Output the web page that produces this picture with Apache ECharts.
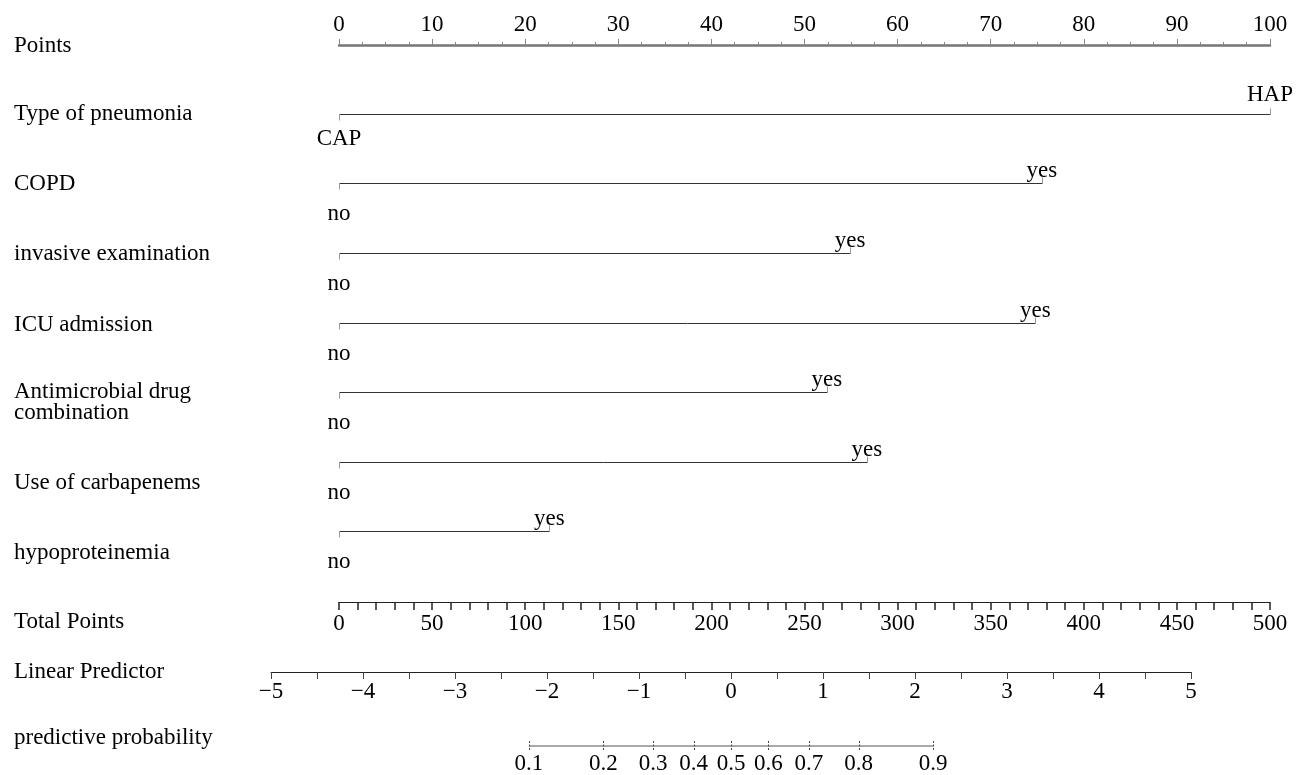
<!DOCTYPE html>
<html><head><meta charset="utf-8">
<script src="https://cdn.jsdelivr.net/npm/echarts@6/dist/echarts.min.js"></script>
<style>html,body{margin:0;padding:0;background:#fff}#c{width:1299px;height:775px}</style>
</head><body><div id="c"></div>
<script>
// ---- data ----
const variables = ['Type of pneumonia', 'COPD', 'invasive examination', 'ICU admission', 'Antimicrobial drug\ncombination', 'Use of carbapenems', 'hypoproteinemia'];
const lowLabels = ['CAP', 'no', 'no', 'no', 'no', 'no', 'no'];
const highLabels = ['HAP', 'yes', 'yes', 'yes', 'yes', 'yes', 'yes'];
const lowPoints = [0, 0, 0, 0, 0, 0, 0];
const highPoints = [100, 75.5, 54.9, 74.8, 52.4, 56.7, 22.6];
const pointsRange = [0, 100];
const totalRange = [0, 500];
const lpRange = [-5, 5];
const probTicks = [0.1, 0.2, 0.3, 0.4, 0.5, 0.6, 0.7, 0.8, 0.9];
const scaleNames = ['Points', 'Total Points', 'Linear Predictor', 'predictive probability'];

// ---- style ----
const FONT = "'Liberation Serif', 'Times New Roman', serif";
const FS = 23;
const LH = 21;
const logit = p => Math.log(p / (1 - p));
const minus = v => (v < 0 ? '\u2212' + Math.abs(v) : String(v));
const isUpper = s => s === s.toUpperCase();

const chart = echarts.init(document.getElementById('c'), null, {renderer: 'canvas'});

const rowData = variables.map((v, i) => [lowPoints[i], highPoints[i], i + 1, i]);
const probData = probTicks.map(p => [logit(p), 0.5, p]);

const leftLabelY = [46, 114, 184, 254, 325, 392, 483, 553, 622, 672, 738];
const leftTexts = [scaleNames[0]].concat(variables, scaleNames.slice(1));

const option = {
  animation: false,
  backgroundColor: '#fff',
  grid: [
    {left: 339, width: 931, top: 45, height: 557},
    {left: 271, width: 920, top: 671, height: 1},
    {left: 271, width: 920, top: 745, height: 2}
  ],
  xAxis: [
    {
      gridIndex: 0, type: 'value', position: 'top', min: pointsRange[0], max: pointsRange[1], interval: 10,
      axisLine: {show: true, lineStyle: {color: '#777', width: 2.5}},
      axisTick: {show: true, length: 6, lineStyle: {color: '#888', width: 1}},
      minorTick: {show: true, splitNumber: 4, length: 3, lineStyle: {color: '#888', width: 1}},
      splitLine: {show: false},
      axisLabel: {color: '#000', fontFamily: FONT, fontSize: FS, margin: 9}
    },
    {
      gridIndex: 0, type: 'value', position: 'bottom', min: totalRange[0], max: totalRange[1], interval: 50,
      axisLine: {show: true, lineStyle: {color: '#222', width: 1}},
      axisTick: {show: true, length: 8, lineStyle: {color: '#222', width: 1.5}},
      minorTick: {show: true, splitNumber: 5, length: 8, lineStyle: {color: '#222', width: 1.5}},
      splitLine: {show: false},
      axisLabel: {color: '#000', fontFamily: FONT, fontSize: FS, margin: 10}
    },
    {
      gridIndex: 1, type: 'value', position: 'bottom', min: lpRange[0], max: lpRange[1], interval: 1,
      axisLine: {show: true, lineStyle: {color: '#222', width: 1}},
      axisTick: {show: true, length: 7, lineStyle: {color: '#444', width: 1}},
      minorTick: {show: true, splitNumber: 2, length: 7, lineStyle: {color: '#444', width: 1}},
      splitLine: {show: false},
      axisLabel: {color: '#000', fontFamily: FONT, fontSize: FS, margin: 8, formatter: minus}
    },
    {gridIndex: 2, type: 'value', min: lpRange[0], max: lpRange[1], show: false}
  ],
  yAxis: [
    {gridIndex: 0, type: 'value', min: 0, max: 8, inverse: true, show: false},
    {gridIndex: 1, type: 'value', min: 0, max: 1, show: false},
    {gridIndex: 2, type: 'value', min: 0, max: 1, show: false}
  ],
  graphic: leftTexts.map((t, i) => {
    const lines = t.split('\n').length;
    return {
      type: 'text', x: 14, y: leftLabelY[i] + (lines - 1) * LH / 2,
      style: {text: t, fontFamily: FONT, fontSize: FS, fill: '#000', lineHeight: LH, verticalAlign: 'middle', align: 'left'}
    };
  }),
  series: [
    {
      type: 'custom', xAxisIndex: 0, yAxisIndex: 0, silent: true,
      encode: {x: [0, 1], y: 2},
      data: rowData,
      renderItem: (params, api) => {
        const row = api.value(2);
        const i = api.value(3);
        const p0 = api.coord([api.value(0), row]);
        const p1 = api.coord([api.value(1), row]);
        const y = Math.round(p0[1]) - 0.5;
        const x0 = Math.round(p0[0]) + 0.5, x1 = Math.round(p1[0]) + 0.5;
        const ts = {fontFamily: FONT, fontSize: FS, fill: '#000', align: 'center', verticalAlign: 'middle'};
        const lo = lowLabels[i], hi = highLabels[i];
        return {
          type: 'group',
          children: [
            {type: 'line', shape: {x1: x0, y1: y, x2: x1, y2: y}, style: {stroke: '#333', lineWidth: 1}},
            {type: 'line', shape: {x1: x0, y1: y, x2: x0, y2: y + 6}, style: {stroke: '#999', lineWidth: 1}},
            {type: 'line', shape: {x1: x1, y1: y, x2: x1, y2: y - 6}, style: {stroke: '#999', lineWidth: 1}},
            {type: 'text', x: p0[0], y: y + (isUpper(lo) ? 24 : 30), style: Object.assign({text: lo}, ts)},
            {type: 'text', x: p1[0], y: y - (isUpper(hi) ? 20 : 13), style: Object.assign({text: hi}, ts)}
          ]
        };
      }
    },
    {
      type: 'line', xAxisIndex: 3, yAxisIndex: 2, silent: true, symbol: 'none',
      data: [[logit(probTicks[0]), 0.5], [logit(probTicks[probTicks.length - 1]), 0.5]],
      lineStyle: {color: '#555', width: 1}
    },
    {
      type: 'custom', xAxisIndex: 3, yAxisIndex: 2, silent: true,
      encode: {x: 0, y: 1},
      data: probData,
      renderItem: (params, api) => {
        const c = api.coord([api.value(0), api.value(1)]);
        const x = Math.round(c[0]) + 0.5;
        return {
          type: 'group',
          children: [
            {type: 'line', shape: {x1: x, y1: c[1] - 5, x2: x, y2: c[1] + 5}, style: {stroke: '#444', lineWidth: 1, lineDash: [2, 1.5]}},
            {type: 'text', x: c[0], y: c[1] + 18, style: {text: String(api.value(2)), fontFamily: FONT, fontSize: FS, fill: '#000', align: 'center', verticalAlign: 'middle'}}
          ]
        };
      }
    }
  ]
};
chart.setOption(option);
</script>
</body></html>
